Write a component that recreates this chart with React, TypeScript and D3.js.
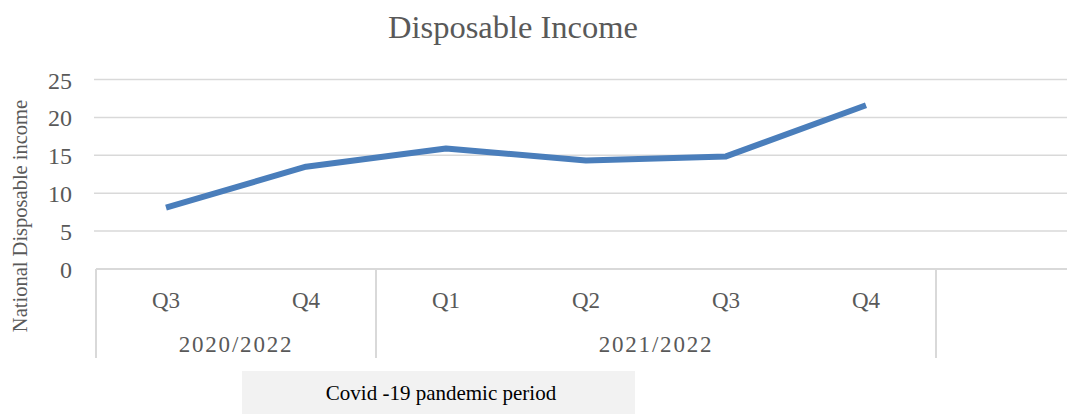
import React from "react";
import * as d3 from "d3";

const categories = ["Q3", "Q4", "Q1", "Q2", "Q3", "Q4", ""];
const values = [8.1, 13.5, 15.9, 14.3, 14.85, 21.6];
const yearGroups = [
  { label: "2020/2022", start: 0, span: 2 },
  { label: "2021/2022", start: 2, span: 4 },
];
const yTicks = [0, 5, 10, 15, 20, 25];
const title = "Disposable Income";
const yLabel = "National Disposable income";
const note = "Covid -19 pandemic period";

const W = 1067;
const H = 414;
const FONT = "'Liberation Serif', 'DejaVu Serif', serif";
const TEXT = "#595959";
const GRID = "#d9d9d9";

export default function App() {
  const left = 96;
  const x = d3
    .scaleBand<number>()
    .domain(categories.map((_, i) => i))
    .range([left, left + 140 * categories.length])
    .paddingInner(0)
    .paddingOuter(0);
  const y = d3.scaleLinear().domain([0, 25]).range([269, 79.5]);
  const cx = (i: number) => (x(i) as number) + x.bandwidth() / 2;

  const line = d3
    .line<number>()
    .x((_, i) => cx(i))
    .y((d) => y(d));

  const axisBottom = 358;
  const boundaries = [0, ...yearGroups.map((g) => g.start + g.span)];

  return (
    <svg
      width={W}
      height={H}
      style={{ position: "absolute", left: 0, top: 0, background: "#fff" }}
    >
      <text
        x={513}
        y={38}
        textAnchor="middle"
        fontFamily={FONT}
        fontSize={32.5}
        fill={TEXT}
      >
        {title}
      </text>

      {yTicks.map((t) => (
        <g key={t}>
          <line
            x1={t === 0 ? left : 94}
            x2={W}
            y1={y(t)}
            y2={y(t)}
            stroke={GRID}
            strokeWidth={t === 0 ? 2 : 1.5}
          />
          <text
            x={72}
            y={y(t) + 9}
            textAnchor="end"
            fontFamily={FONT}
            fontSize={24}
            fill={TEXT}
          >
            {t}
          </text>
        </g>
      ))}

      <text
        transform={`translate(27, ${216}) rotate(-90)`}
        textAnchor="middle"
        fontFamily={FONT}
        fontSize={20.5}
        fill={TEXT}
      >
        {yLabel}
      </text>

      {boundaries.map((b) => (
        <line
          key={b}
          x1={x(b) as number}
          x2={x(b) as number}
          y1={y(0)}
          y2={axisBottom}
          stroke={GRID}
          strokeWidth={2}
        />
      ))}

      {categories.map((c, i) => (
        <text
          key={i}
          x={cx(i)}
          y={308}
          textAnchor="middle"
          fontFamily={FONT}
          fontSize={23}
          fill={TEXT}
        >
          {c}
        </text>
      ))}

      {yearGroups.map((g) => {
        const x0 = x(g.start) as number;
        const x1 = (x(g.start + g.span - 1) as number) + x.bandwidth();
        return (
          <text
            key={g.label}
            x={(x0 + x1) / 2}
            y={352}
            textAnchor="middle"
            fontFamily={FONT}
            fontSize={23}
            letterSpacing={1.8}
            fill={TEXT}
          >
            {g.label}
          </text>
        );
      })}

      <path
        d={line(values) || ""}
        fill="none"
        stroke="#4a7ebb"
        strokeWidth={6}
        strokeLinejoin="round"
      />

      <rect x={242} y={371} width={393} height={43} fill="#f2f2f2" />
      <text
        x={441}
        y={400}
        textAnchor="middle"
        fontFamily={FONT}
        fontSize={21}
        fill="#000"
      >
        {note}
      </text>
    </svg>
  );
}
